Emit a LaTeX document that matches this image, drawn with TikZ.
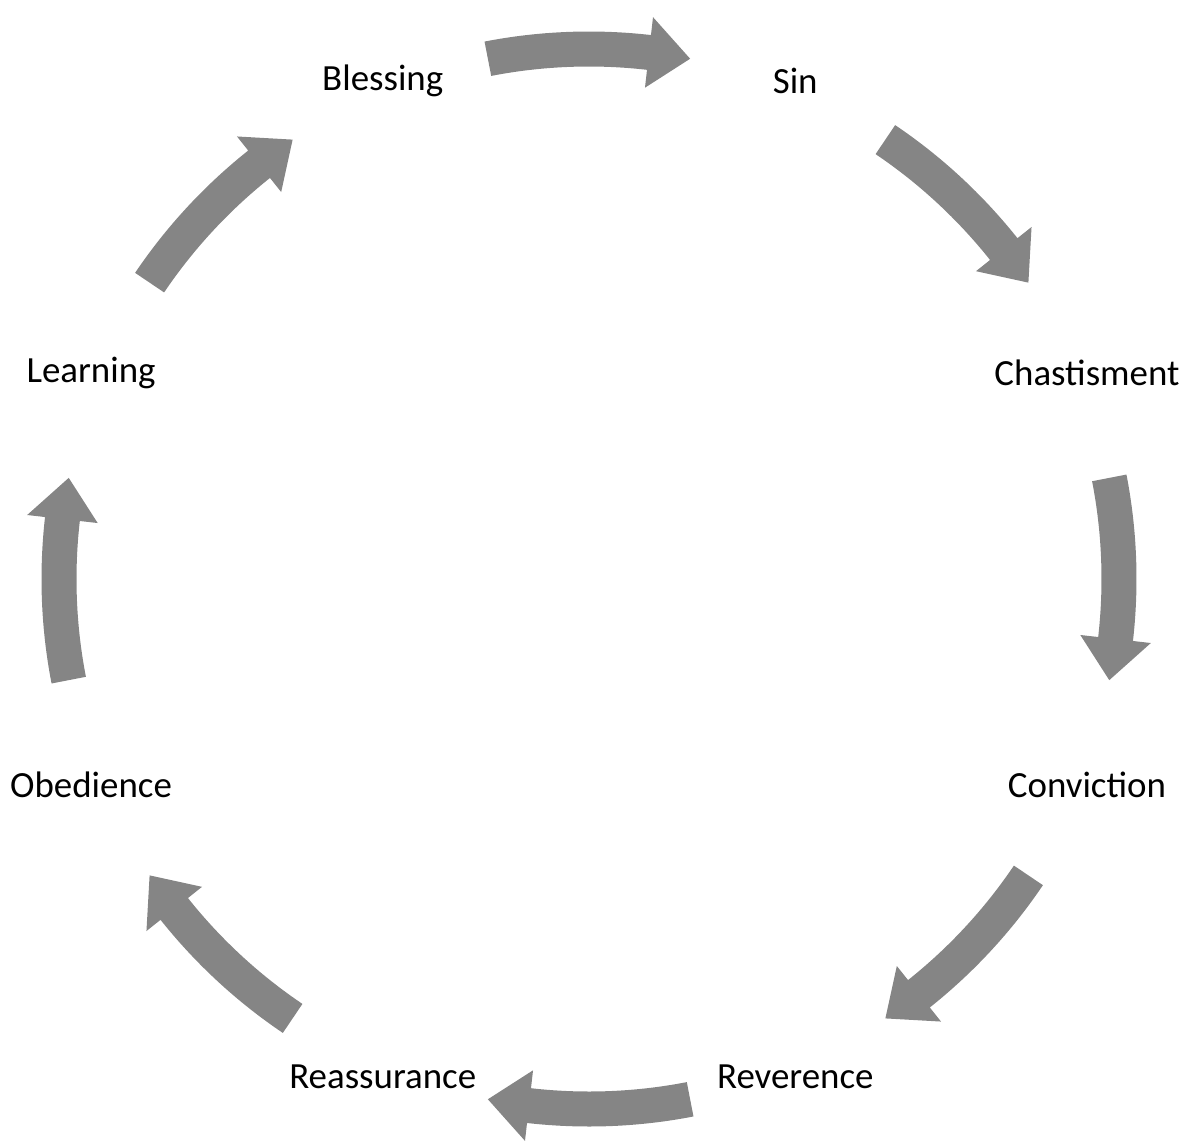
\documentclass[tikz,border=0pt]{standalone}
\usepackage{fontspec}
\setmainfont{Carlito}
\tikzset{
  stage/.style={font=\fontsize{10.5}{12}\selectfont},
  cyclearrow/.style={fill=black!48, draw=none}
}
% curved block arrow, #1 = middle angle, runs clockwise
\newcommand{\cyclearc}[1]{%
  \fill[cyclearrow] (#1+11:5.475) arc[start angle=#1+11, end angle=#1-6.5, radius=5.475]
    -- (#1-6.5:5.655) -- (#1-11:5.30) -- (#1-6.5:4.945) -- (#1-6.5:5.125)
    arc[start angle=#1-6.5, end angle=#1+11, radius=5.125] -- cycle;
}
\begin{document}
\begin{tikzpicture}
\useasboundingbox (-5.89,-5.66) rectangle (6.04,5.79);

\node[stage](blessing) at (112.5:5.39) {Blessing};
\node[stage](sin) at (67.5:5.39) {Sin};
\node[stage](chastisment) at (22.5:5.39) {Chastisment};
\node[stage](conviction) at (-22.5:5.39) {Conviction};
\node[stage](reverence) at (-67.5:5.39) {Reverence};
\node[stage](reassurance) at (-112.5:5.39) {Reassurance};
\node[stage](obedience) at (-157.5:5.39) {Obedience};
\node[stage](learning) at (157.5:5.39) {Learning};

\cyclearc{90}
\cyclearc{45}
\cyclearc{0}
\cyclearc{-45}
\cyclearc{-90}
\cyclearc{-135}
\cyclearc{180}
\cyclearc{135}

\end{tikzpicture}
\end{document}
